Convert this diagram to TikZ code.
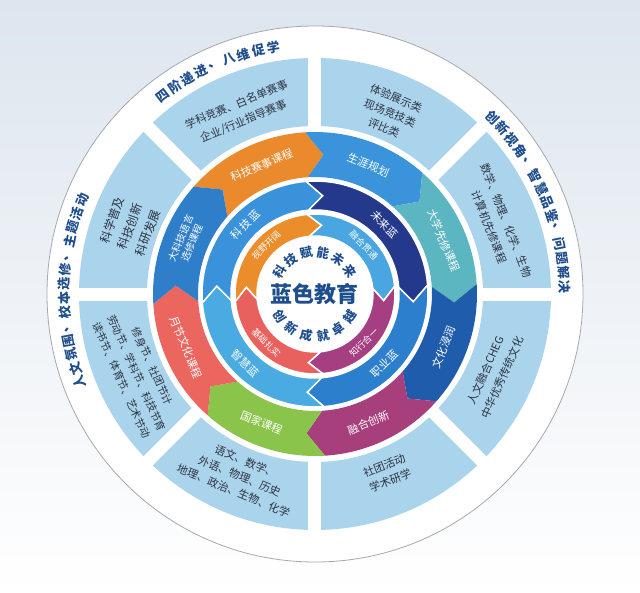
\documentclass[tikz,border=0pt]{standalone}
\usepackage{fontspec}
\setmainfont{Noto Sans CJK SC}

\definecolor{bgtop}{RGB}{221,229,238}
\definecolor{rimgray}{RGB}{165,168,175}
\definecolor{panel}{RGB}{170,211,236}
\definecolor{paneltext}{RGB}{45,52,64}
\definecolor{titleblue}{RGB}{30,78,140}
% outer course ring
\definecolor{orangeA}{RGB}{234,138,44}
\definecolor{skyA}{RGB}{59,148,219}
\definecolor{tealA}{RGB}{92,182,194}
\definecolor{deepA}{RGB}{32,92,172}
\definecolor{plumA}{RGB}{168,63,125}
\definecolor{greenA}{RGB}{139,196,74}
\definecolor{coralA}{RGB}{236,102,96}
\definecolor{midA}{RGB}{47,126,202}
% blue ring
\definecolor{techblue}{RGB}{58,146,218}
\definecolor{navy}{RGB}{36,56,140}
\definecolor{jobblue}{RGB}{44,127,205}
\definecolor{wiseblue}{RGB}{74,170,226}
% inner ring
\definecolor{orangeB}{RGB}{235,141,43}
\definecolor{skyB}{RGB}{74,166,224}
\definecolor{plumB}{RGB}{166,63,130}
\definecolor{coralB}{RGB}{233,97,94}

% arrow segment: style, start angle, end angle, inner r, outer r, half tip
\newcommand{\arrowseg}[6]{%
  \pgfmathsetmacro\rmid{(#4+#5)/2}
  \path[#1] (#2+#6:#5) arc[start angle=#2+#6, end angle=#3+#6, radius=#5]
    -- (#3-#6:\rmid) -- (#3+#6:#4)
    arc[start angle=#3+#6, end angle=#2+#6, radius=#4]
    -- (#2-#6:\rmid) -- cycle;}

\begin{document}
\begin{tikzpicture}[x=1pt, y=1pt,
  ringtext/.style={text=white, font=\fontsize{11}{13}\selectfont, align=center, inner sep=0pt},
  smalltext/.style={text=white, font=\fontsize{9}{11}\selectfont, inner sep=0pt},
  paneltext/.style={text=paneltext, font=\fontsize{11}{18}\selectfont, align=center, inner sep=0pt},
  arctext/.style={text=titleblue, font=\fontsize{13}{13}\selectfont\bfseries, inner sep=0pt},
  innertext/.style={text=titleblue, font=\fontsize{12.5}{12.5}\selectfont\bfseries, inner sep=0pt}]

  % Background
  \useasboundingbox (-315,-298) rectangle (325,294);
  \shade[top color=bgtop, bottom color=white] (-315,-298) rectangle (325,294);
  \fill[white, draw=rimgray, line width=0.8] (0,0) circle (268);

  % Panels
  \fill[panel, even odd rule] (0,0) circle (236) (0,0) circle (168);
  \foreach \a in {0,45,...,315}
    \draw[white, line width=13] (\a:160) -- (\a:240);

  % Course ring
  \foreach \a/\col in {135/orangeA, 90/skyA, 45/tealA, 0/deepA, -45/plumA, -90/greenA, -135/coralA, 180/midA}
    {\arrowseg{fill=\col}{\a}{\a-45}{117}{162}{3.5}}

  % Blue ring
  \foreach \a/\col in {180/techblue, 90/navy, 0/jobblue, -90/wiseblue}
    {\arrowseg{fill=\col, draw=white, line width=1.5}{\a}{\a-90}{84}{113}{4.5}}

  % Inner ring
  \foreach \a/\col in {180/orangeB, 90/skyB, 0/plumB, -90/coralB}
    {\arrowseg{fill=\col, draw=white, line width=1.5}{\a}{\a-90}{58}{80}{5.5}}

  % Center
  \node[text=titleblue, font=\fontsize{22}{24}\selectfont\bfseries] (core) at (0,0) {蓝色教育};
  \foreach \c [count=\i] in {科,技,赋,能,未,来}
    \node[innertext, rotate={58-23*(\i-1)}] (ia\i) at ({148-23*(\i-1)}:42) {\c};
  \foreach \c [count=\i] in {创,新,成,就,卓,越}
    \node[innertext, rotate={-58+23*(\i-1)}] (ib\i) at ({-148+23*(\i-1)}:42) {\c};

  % Inner ring labels
  \node[smalltext, rotate=45] (sy) at (135:69) {视野开阔};
  \node[smalltext, rotate=-45] (rh) at (45:69) {融合贯通};
  \node[smalltext, rotate=45] (zx) at (-45:69) {知行合一};
  \node[smalltext, rotate=-45] (jc) at (-135:69) {基础扎实};

  % Blue ring labels
  \node[ringtext, rotate=45] (kj) at (135:98.5) {科\hspace{2pt}技\hspace{2pt}蓝};
  \node[ringtext, rotate=-45] (wl) at (45:98.5) {未来蓝};
  \node[ringtext, rotate=45] (zy) at (-45:98.5) {职业蓝};
  \node[ringtext, rotate=-45] (zh) at (-135:98.5) {智慧蓝};

  % Course ring labels
  \node[ringtext, rotate=22.5] (ss) at (112.5:139.5) {科技赛事课程};
  \node[ringtext, rotate=-22.5] (sg) at (67.5:139.5) {生涯规划};
  \node[ringtext, rotate=-67.5] (dx) at (22.5:139.5) {大学先修课程};
  \node[ringtext, rotate=67.5] (wh) at (-22.5:139.5) {文化浸润};
  \node[ringtext, rotate=22.5] (rc) at (-67.5:139.5) {融合创新};
  \node[ringtext, rotate=-22.5] (gj) at (-112.5:139.5) {国家课程};
  \node[ringtext, rotate=-67.5] (yj) at (-157.5:139.5) {月节文化课程};
  \node[ringtext, rotate=67.5, font=\fontsize{10}{12}\selectfont] (dk) at (157.5:139.5) {大科技语言\\选修课程};

  % Panel texts
  \node[paneltext, rotate=22.5] (pa) at (112.5:196) {学科竞赛、白名单赛事\\企业/行业指导赛事};
  \node[paneltext, rotate=-22.5, font=\fontsize{11}{16}\selectfont] (pb) at (67.5:196) {体验展示类\\现场竞技类\\评比类};
  \node[paneltext, rotate=-69] (pc) at (21:196) {数学、物理、化学、生物\\计算机先修课程};
  \node[paneltext, rotate=66] (pd) at (-24:196) {人文融合CHEG\\中华优秀传统文化};
  \node[paneltext, rotate=22, font=\fontsize{11}{16}\selectfont] (pe) at (-68:193) {社团活动\\学术研学};
  \node[paneltext, rotate=-22.5, font=\fontsize{11}{16}\selectfont] (pf) at (-112.5:197) {语文、数学、\\外语、物理、历史\\地理、政治、生物、化学};
  \node[paneltext, rotate=-66, font=\fontsize{10.5}{17}\selectfont] (pg) at (-156:195) {修身节、社团节计\\劳动节、学科节、科技节育\\读书节、体育节、艺术节动};
  \node[paneltext, rotate=70, font=\fontsize{12}{19}\selectfont] (ph) at (160:197) {科学普及\\科技创新\\科研发展};

  % Rim titles
  \foreach \c [count=\i] in {四,阶,递,进,、,八,维,促,学}
    \node[arctext, rotate={37.6-3.5*(\i-1)}] (ta\i) at ({127.6-3.5*(\i-1)}:250) {\c};
  \foreach \c [count=\i] in {创,新,视,角,、,智,慧,品,鉴,、,问,题,解,决}
    \node[arctext, rotate={-45.2-3.32*(\i-1)}] (tb\i) at ({44.8-3.32*(\i-1)}:250) {\c};
  \foreach \c [count=\i] in {人,文,氛,围,、,校,本,选,修,、,主,题,活,动}
    \node[arctext, rotate={110.5-3.27*(\i-1)}] (tc\i) at ({200.5-3.27*(\i-1)}:251) {\c};

\end{tikzpicture}
\end{document}
